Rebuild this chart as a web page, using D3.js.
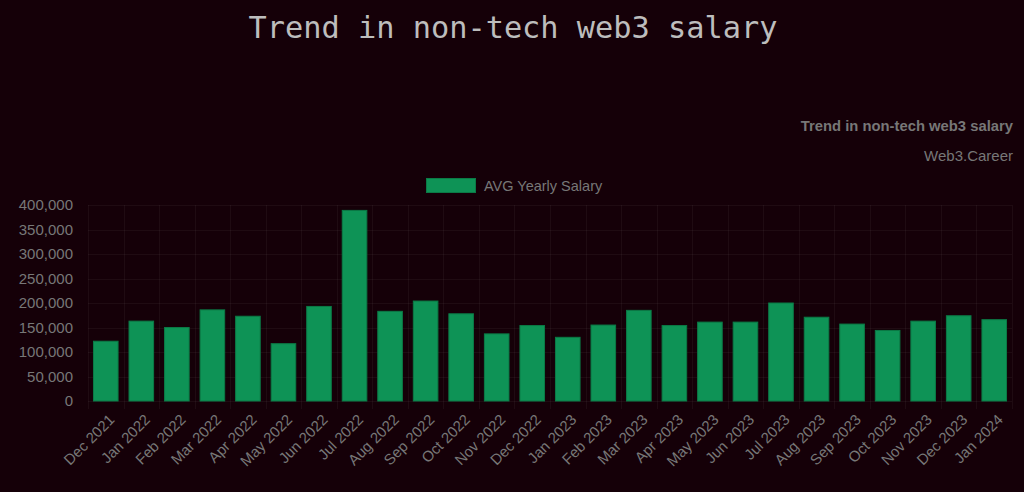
<!DOCTYPE html>
<html><head><meta charset="utf-8">
<script src="https://cdn.jsdelivr.net/npm/d3@7"></script>
<style>html,body{margin:0;padding:0;background:#150008;overflow:hidden}</style>
</head><body>
<svg id="c" width="1024" height="492"></svg>
<script>
const categories = ["Dec 2021","Jan 2022","Feb 2022","Mar 2022","Apr 2022","May 2022","Jun 2022","Jul 2022","Aug 2022","Sep 2022","Oct 2022","Nov 2022","Dec 2022","Jan 2023","Feb 2023","Mar 2023","Apr 2023","May 2023","Jun 2023","Jul 2023","Aug 2023","Sep 2023","Oct 2023","Nov 2023","Dec 2023","Jan 2024"];
const salaries = [123000,164000,151000,187000,174000,118000,194000,390000,184000,205000,179000,138000,155000,131000,156000,186000,155000,162000,162000,201000,172000,158000,145000,164000,175000,167000];
const yTicks = [0,50000,100000,150000,200000,250000,300000,350000,400000];
const seriesName = "AVG Yearly Salary";
const titleText = "Trend in non-tech web3 salary";
const subTitle = "Trend in non-tech web3 salary";
const sourceText = "Web3.Career";

(function(){
const svg = d3.select("#c");
svg.append("rect").attr("width",1024).attr("height",492).attr("fill","#150008");

const pL = 88, pR = 1012, pT = 205, pB = 401;
const x = d3.scaleBand().domain(categories).range([pL,pR]).paddingInner(0.28).paddingOuter(0.14);
const xg = d3.scaleBand().domain(categories).range([pL,pR]);
const y = d3.scaleLinear().domain([0,400000]).range([pB,pT]);
const sans = "Liberation Sans, Arial, Helvetica, sans-serif";

// grid
const grid = svg.append("g").attr("stroke","rgba(255,255,255,0.045)").attr("stroke-width",1);
yTicks.forEach(t=>grid.append("line").attr("x1",pL).attr("x2",pR).attr("y1",Math.round(y(t))+0.5).attr("y2",Math.round(y(t))+0.5));
categories.forEach(c=>grid.append("line").attr("x1",Math.round(xg(c))+0.5).attr("x2",Math.round(xg(c))+0.5).attr("y1",pT).attr("y2",pB+8));
grid.append("line").attr("x1",pR+0.5).attr("x2",pR+0.5).attr("y1",pT).attr("y2",pB+8);

// bars
svg.append("g").selectAll("rect").data(salaries).join("rect")
  .attr("x",(d,i)=>x(categories[i])+0.5).attr("width",x.bandwidth()-1)
  .attr("y",d=>y(d)+0.5).attr("height",d=>pB-y(d)-0.5)
  .attr("fill","#0e9356").attr("stroke","#0b7a46").attr("stroke-width",1);

// y axis
const yAxis = d3.axisLeft(y).tickValues(yTicks).tickSize(0).tickPadding(0).tickFormat(d3.format(","));
const ya = svg.append("g").attr("transform",`translate(${pL-15},0)`).call(yAxis);
ya.select(".domain").remove();
ya.selectAll("text").attr("fill","#777").attr("font-family",sans).attr("font-size",15);

// x axis
const xAxis = d3.axisBottom(xg).tickSize(0).tickPadding(0);
const xa = svg.append("g").attr("transform",`translate(0,${pB+12})`).call(xAxis);
xa.select(".domain").remove();
xa.selectAll("text").attr("fill","#777").attr("font-family",sans).attr("font-size",15)
  .attr("text-anchor","end").attr("dy","0.35em").attr("transform","translate(6,4) rotate(-45)");

// title
svg.append("text").attr("x",513).attr("y",38).attr("text-anchor","middle")
  .attr("font-family","DejaVu Sans Mono, monospace").attr("font-size",30.3).attr("fill","#bdbdbd")
  .text(titleText);

svg.append("text").attr("x",1013).attr("y",131).attr("text-anchor","end")
  .attr("font-family",sans).attr("font-size",14.8).attr("font-weight","bold").attr("fill","#777")
  .text(subTitle);
svg.append("text").attr("x",1013).attr("y",161).attr("text-anchor","end")
  .attr("font-family",sans).attr("font-size",15).attr("fill","#777")
  .text(sourceText);

// legend
svg.append("rect").attr("x",426.5).attr("y",178.5).attr("width",49).attr("height",14)
  .attr("fill","#0e9356").attr("stroke","#0b7a46");
svg.append("text").attr("x",484).attr("y",190.5).attr("font-family",sans)
  .attr("font-size",14.5).attr("fill","#777").text(seriesName);
})();
</script>
</body></html>
